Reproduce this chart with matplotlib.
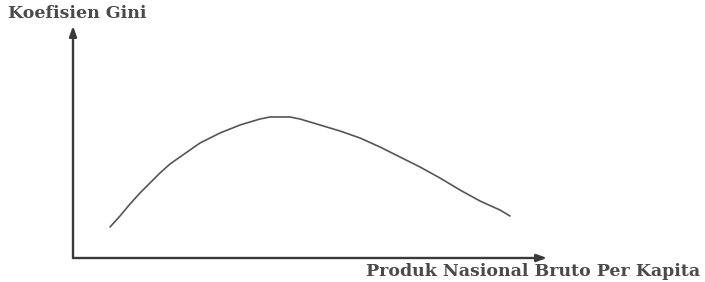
import matplotlib
matplotlib.use("Agg")
import matplotlib.pyplot as plt

# Kuznets curve (arbitrary units)
gnp = [37, 47, 57, 67, 77, 87, 97, 107, 117, 127, 137, 147, 157, 167, 177, 187, 197,
       207, 217, 227, 237, 247, 257, 267, 287, 307, 327, 347, 367, 387, 407, 427, 437]
gini = [31, 42, 54, 65, 75, 85, 94, 101, 108, 115, 120, 125, 129, 133, 136, 139, 141,
        141, 141, 139, 136, 133, 130, 127, 120, 111, 101, 91, 80, 68, 57, 48, 42]

y_label = "Koefisien Gini"
x_label = "Produk Nasional Bruto Per Kapita"

W, H = 705, 282
fig = plt.figure(figsize=(W / 100, H / 100), dpi=100)
ax = fig.add_axes([73 / W, 24 / H, 474 / W, 232 / H])
ax.set_xlim(0, 474)
ax.set_ylim(0, 232)
ax.axis("off")

ax.plot(gnp, gini, color="#555555", lw=1.2, solid_capstyle="round", solid_joinstyle="round")

axis_col = "#3a3a3a"
ax.annotate("", xy=(1, 0), xytext=(0, 0), xycoords="axes fraction",
            arrowprops=dict(arrowstyle="-|>,head_length=0.6,head_width=0.22",
                            color=axis_col, lw=1.7, shrinkA=0, shrinkB=0))
ax.annotate("", xy=(0, 1), xytext=(0, 0), xycoords="axes fraction",
            arrowprops=dict(arrowstyle="-|>,head_length=0.6,head_width=0.22",
                            color=axis_col, lw=1.7, shrinkA=0, shrinkB=0))

fig.text(8 / W, 1 - 13 / H, y_label, ha="left", va="center",
         family="DejaVu Serif", fontweight="bold", fontsize=12.5, color="#4a4a4a")
fig.text(700 / W, 1 - 271 / H, x_label, ha="right", va="center",
         family="DejaVu Serif", fontweight="bold", fontsize=12.5, color="#4a4a4a")

fig.savefig("out.png", dpi=100, facecolor="white")
